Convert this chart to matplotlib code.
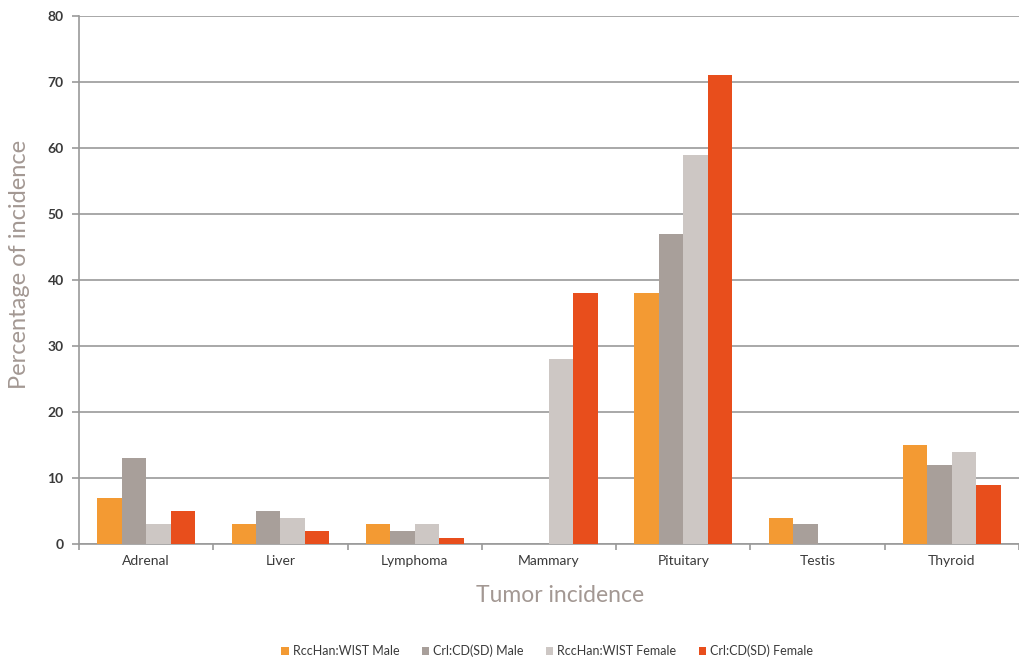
import matplotlib
matplotlib.use("Agg")
import matplotlib.pyplot as plt
import numpy as np

categories = ["Adrenal", "Liver", "Lymphoma", "Mammary", "Pituitary", "Testis", "Thyroid"]
series_names = ["RccHan:WIST Male", "Crl:CD(SD) Male", "RccHan:WIST Female", "Crl:CD(SD) Female"]
rcchan_male = [7, 3, 3, 0, 38, 4, 15]
crl_male = [13, 5, 2, 0, 47, 3, 12]
rcchan_female = [3, 4, 3, 28, 59, 0, 14]
crl_female = [5, 2, 1, 38, 71, 0, 9]
colors = ["#F39A33", "#A89F9A", "#CDC7C4", "#E84E1C"]

plt.rcParams['font.family'] = ['Lato', 'DejaVu Sans']

W, H = 1019, 662
fig = plt.figure(figsize=(W / 100, H / 100), dpi=100)
ax = fig.add_axes([0.0775, 0.178, 0.9225, 0.798])

x = np.arange(len(categories))
w = 0.182
data = [rcchan_male, crl_male, rcchan_female, crl_female]
for i, (vals, c, name) in enumerate(zip(data, colors, series_names)):
    ax.bar(x + (i - 1.5) * w, vals, width=w, color=c, label=name, zorder=3)

ax.set_xlim(-0.5, len(categories) - 0.5)
ax.set_ylim(0, 80)
ax.set_yticks(range(0, 81, 10))
ax.yaxis.grid(True, color="#9a9a9a", linewidth=1.2, zorder=0)
ax.set_axisbelow(True)

ax.set_xticks(x)
ax.set_xticklabels(categories, fontsize=10, color="#3a3a3a")
ax.tick_params(axis='x', length=0, pad=8)
ax.set_xticks(np.arange(-0.5, len(categories), 1), minor=True)
ax.tick_params(axis='x', which='minor', length=4, color="#9a9a9a", width=1.2)
ax.tick_params(axis='y', length=5, color="#9a9a9a", width=1.2, labelsize=10, labelcolor="#3a3a3a", pad=6)
for lab in ax.get_yticklabels():
    lab.set_fontweight('bold')

for s in ["top", "right"]:
    ax.spines[s].set_visible(False)
for s in ["left", "bottom"]:
    ax.spines[s].set_color("#9a9a9a")
    ax.spines[s].set_linewidth(1.2)

fig.text(20 / W, 1 - 264 / H, "Percentage of incidence", rotation=90, fontsize=17,
         color="#A39893", ha="center", va="center")
fig.text(560 / W, 1 - 595 / H, "Tumor incidence", fontsize=16.5,
         color="#A39893", ha="center", va="center")

leg = fig.legend(loc="center", bbox_to_anchor=(0.537, 1 - 651 / H), ncol=4, frameon=False,
                 fontsize=9, handlelength=0.6, handleheight=0.6, handletextpad=0.3,
                 columnspacing=1.8, labelcolor="#3a3a3a")

fig.savefig("out.png", dpi=100)
